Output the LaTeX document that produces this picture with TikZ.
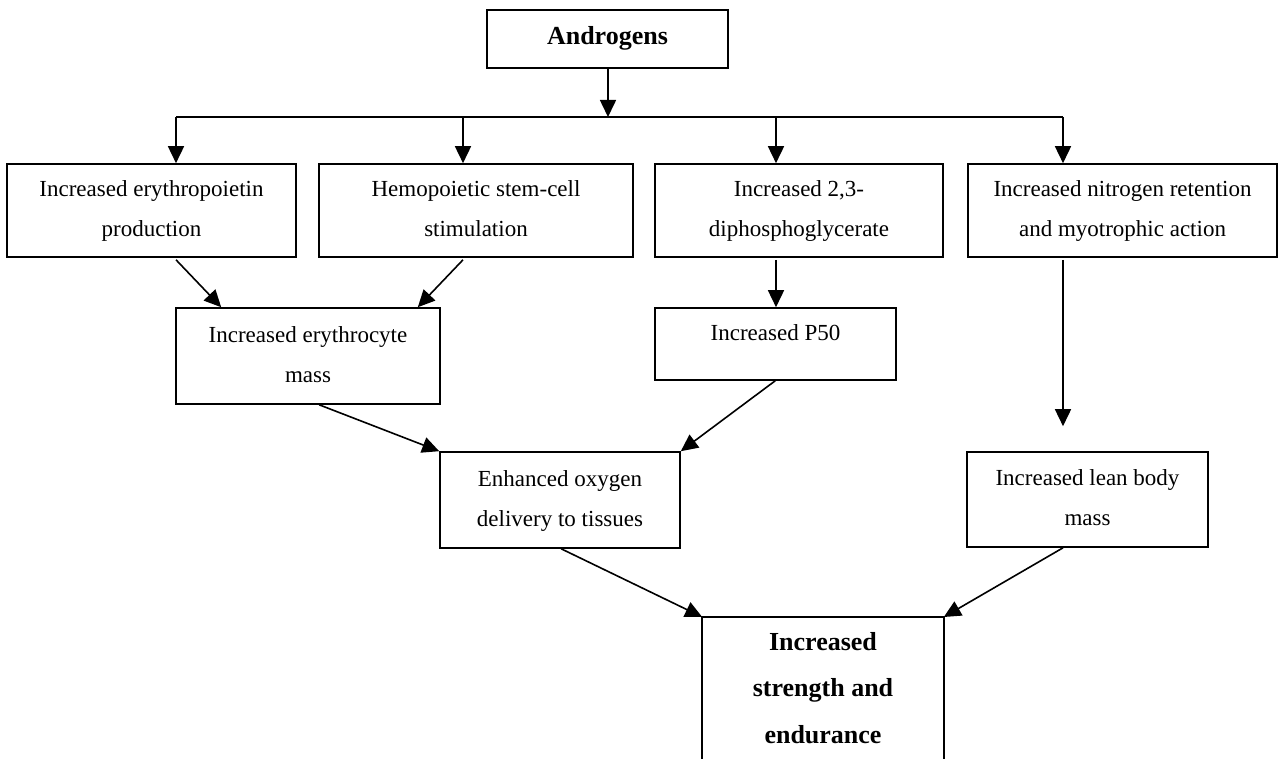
\documentclass[tikz,border=0pt]{standalone}
\usepackage{fontspec}
\setmainfont{Liberation Serif}
\usetikzlibrary{arrows.meta,calc}
\newcommand{\rs}{\rule[-14pt]{0pt}{40pt}}
\newcommand{\bs}{\rule[-14pt]{0pt}{46.5pt}}
\begin{document}
\begin{tikzpicture}[x=1pt,y=-1pt,
  box/.style={draw,line width=1.6pt,inner sep=0pt,align=center,font=\fontsize{23}{40}\selectfont},
  bbox/.style={box,font=\fontsize{26}{46.5}\selectfont\bfseries},
  arr/.style={-{Triangle[length=17pt,width=16pt]},line width=1.6pt},
  ln/.style={line width=1.6pt}]
\useasboundingbox (0,0) rectangle (1279,759);
\begin{scope}
\clip (0,0) rectangle (1279,759);
\fill[white] (0,0) rectangle (1279,759);
\node[bbox,minimum width=241pt,minimum height=58pt] (andro) at (607.5,39) {\rs Androgens};
\node[box,minimum width=289pt,minimum height=93pt] (b1) at (151.5,210.5) {\rs Increased erythropoietin\\\rs production};
\node[box,minimum width=314pt,minimum height=93pt] (b2) at (476,210.5) {\rs Hemopoietic stem-cell\\\rs stimulation};
\node[box,minimum width=288pt,minimum height=93pt] (b3) at (799,210.5) {\rs Increased 2,3-\\\rs diphosphoglycerate};
\node[box,minimum width=309pt,minimum height=93pt] (b4) at (1122.5,210.5) {\rs Increased nitrogen retention\\\rs and myotrophic action};
\node[box,minimum width=264pt,minimum height=96pt] (ery) at (308,356) {\rs Increased erythrocyte\\\rs mass};
\node[box,minimum width=241pt,minimum height=72pt] (p50) at (775.5,344) {\rule[-24pt]{0pt}{40pt}Increased P50};
\node[box,minimum width=240pt,minimum height=96pt] (enh) at (560,500) {\rs Enhanced oxygen\\\rs delivery to tissues};
\node[box,minimum width=241pt,minimum height=95pt] (lean) at (1087.5,499.5) {\rs Increased lean body\\\rs mass};
\node[bbox,draw=none,minimum width=240pt,anchor=north] (str) at (823,617) {\bs Increased\\\bs strength and\\\bs endurance};
\draw[ln] ($(str.north west)+(0,200)$) -- (str.north west) -- (str.north east) -- ++(0,200);

\coordinate (jc) at (608,117);
\coordinate (j1) at (176,117);
\coordinate (j2) at (463,117);
\coordinate (j3) at (776,117);
\coordinate (j4) at (1063,117);

\draw[arr] (andro.south -| jc) -- (jc);
\draw[ln] (j1) -- (j4);
\draw[arr] (j1) -- (j1 |- b1.north);
\draw[arr] (j2) -- (j2 |- b2.north);
\draw[arr] (j3) -- (j3 |- b3.north);
\draw[arr] (j4) -- (j4 |- b4.north);

\draw[arr] ($(b1.south -| j1)+(0,2)$) -- ($(ery.north west)+(46,0)$);
\draw[arr] ($(b2.south -| j2)+(0,2)$) -- ($(ery.north east)+(-23,0)$);
\draw[arr] ($(b3.south -| j3)+(0,2)$) -- (p50.north -| j3);
\draw[arr,shorten >=25pt] ($(b4.south -| j4)+(0,2)$) -- (lean.north -| j4);
\draw[arr] ($(ery.south west)+(144,0)$) -- (enh.north west);
\draw[arr] ($(p50.south west)+(121,0)$) -- (enh.north east);
\draw[arr] ($(enh.south west)+(122,0)$) -- (str.north west);
\draw[arr] (lean.south -| j4) -- (str.north east);
\end{scope}
\end{tikzpicture}
\end{document}
